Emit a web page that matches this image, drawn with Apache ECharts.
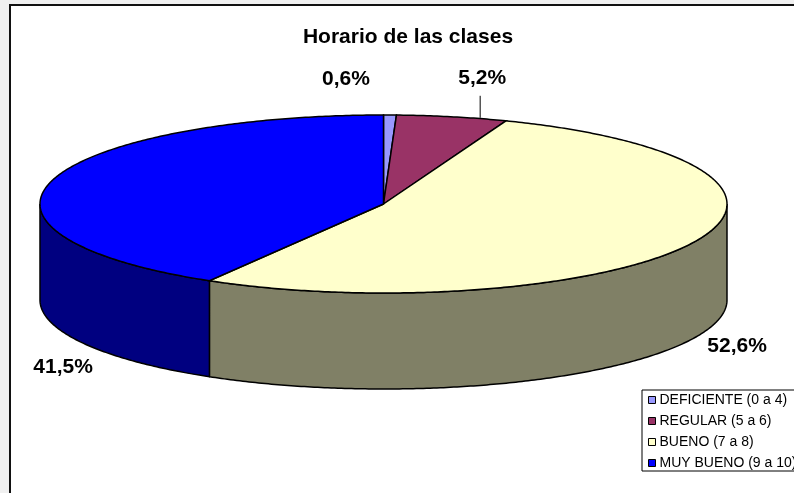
<!DOCTYPE html>
<html>
<head>
<meta charset="utf-8">
<script src="https://cdn.jsdelivr.net/npm/echarts@6/dist/echarts.min.js"></script>
<style>
html,body{margin:0;padding:0;width:794px;height:493px;overflow:hidden;background:#f0f0f0;}
#frame{position:absolute;left:9px;top:4px;width:830px;height:520px;background:#fff;border-left:2px solid #111;border-top:2px solid #111;}
#main{position:absolute;left:0;top:0;width:830px;height:493px;}
</style>
</head>
<body>
<div id="frame"></div>
<div id="main"></div>
<script>
// datos del grafico
var categories = ['DEFICIENTE (0 a 4)', 'REGULAR (5 a 6)', 'BUENO (7 a 8)', 'MUY BUENO (9 a 10)'];
var values = [0.6, 5.2, 52.6, 41.5];

// estilo
var topColors = ['#9999ff', '#993366', '#ffffcc', '#0000ff'];
var sideColors = ['#4d4d80', '#4d1933', '#808066', '#000080'];
var labelNudge = [[-44, -36], [30, -39], [44, 104], [11, 187]];
var hasLeader = [false, true, false, false];
var CX = 383.5, CY = 204, RX = 343.5, RY = 89, DEPTH = 96;

var total = values.reduce(function (s, v) { return s + v; }, 0);
var starts = [], spans = [];
var acc = 0;
values.forEach(function (v) {
    starts.push(acc / total * Math.PI * 2);
    spans.push(v / total * Math.PI * 2);
    acc += v;
});

function pt(a, dy) {
    return [CX + RX * Math.sin(a), CY - RY * Math.cos(a) + dy];
}
function arc(a1, a2, dy) {
    var n = Math.max(2, Math.ceil(Math.abs(a2 - a1) / 0.01));
    var pts = [];
    for (var k = 0; k <= n; k++) {
        pts.push(pt(a1 + (a2 - a1) * k / n, dy));
    }
    return pts;
}
function fmt(v) {
    return v.toFixed(1).replace('.', ',') + '%';
}

function makeRender(i) {
    return function (params, api) {
        var a1 = starts[i], a2 = starts[i] + spans[i];
        var children = [];
        // pared frontal
        var lo = Math.max(a1, Math.PI / 2), hi = Math.min(a2, Math.PI * 1.5);
        if (hi > lo) {
            children.push({
                type: 'polygon', z2: 1,
                shape: { points: arc(lo, hi, 0).concat(arc(hi, lo, DEPTH)) },
                style: { fill: sideColors[i], stroke: '#000', lineWidth: 1.5 }
            });
        }
        // cara superior
        children.push({
            type: 'polygon', z2: 5,
            shape: { points: [[CX, CY]].concat(arc(a1, a2, 0)) },
            style: { fill: api.visual('color'), stroke: '#000', lineWidth: 1.5 }
        });
        // etiqueta
        var mid = pt((a1 + a2) / 2, 0);
        var lx = mid[0] + labelNudge[i][0], ly = mid[1] + labelNudge[i][1];
        children.push({
            type: 'text', z2: 10,
            style: {
                text: fmt(api.value(0)), x: lx, y: ly,
                fill: '#000', align: 'center', verticalAlign: 'middle',
                font: 'bold 21px "Liberation Sans", Arial, sans-serif'
            }
        });
        if (hasLeader[i]) {
            children.push({
                type: 'line', z2: 10,
                shape: { x1: lx - 2, y1: ly + 18, x2: lx - 2, y2: mid[1] + 1 },
                style: { stroke: '#000', lineWidth: 1 }
            });
        }
        return { type: 'group', children: children };
    };
}

var series = categories.map(function (name, i) {
    return {
        name: name,
        type: 'custom',
        coordinateSystem: 'none',
        itemStyle: { color: topColors[i] },
        data: [values[i]],
        renderItem: makeRender(i),
        animation: false
    };
});

var chart = echarts.init(document.getElementById('main'));
chart.setOption({
    animation: false,
    graphic: [{
        type: 'text', x: 408, y: 37,
        style: {
            text: 'Horario de las clases', align: 'center', verticalAlign: 'middle',
            fill: '#000', font: 'bold 21px "Liberation Sans", Arial, sans-serif'
        }
    }],
    legend: {
        orient: 'vertical',
        left: 642, top: 390,
        padding: [3, 40, 1, 6],
        itemGap: 7,
        itemWidth: 7, itemHeight: 7,
        icon: 'rect',
        selectedMode: false,
        borderColor: '#000', borderWidth: 1,
        backgroundColor: '#fff',
        itemStyle: { borderColor: '#000', borderWidth: 1 },
        textStyle: { fontSize: 14, color: '#000', fontFamily: '"Liberation Sans", Arial, sans-serif', padding: [0, 0, 0, -1] },
        data: categories
    },
    series: series
});
</script>
</body>
</html>
